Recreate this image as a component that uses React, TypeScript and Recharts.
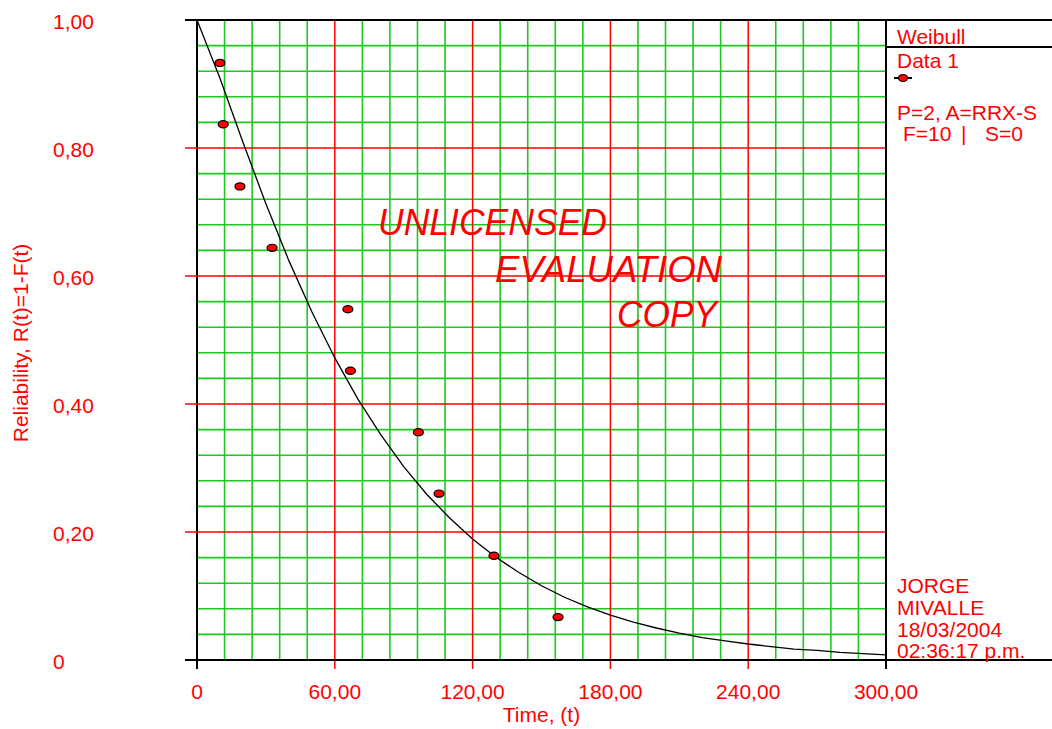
import {
  ComposedChart,
  XAxis,
  YAxis,
  Line,
  Scatter,
  ReferenceLine,
  Label,
} from "recharts";

// axis ticks
const xTicks = [0, 60, 120, 180, 240, 300];
const yTicks = [0, 0.2, 0.4, 0.6, 0.8, 1];
const xMinor = [12, 24, 36, 48, 72, 84, 96, 108, 132, 144, 156, 168, 192, 204, 216, 228, 252, 264, 276, 288];
const yMinor = [
  0.04, 0.08, 0.12, 0.16, 0.24, 0.28, 0.32, 0.36, 0.44, 0.48, 0.52, 0.56, 0.64,
  0.68, 0.72, 0.76, 0.84, 0.88, 0.92, 0.96,
];

// Data 1 (failure times and median-rank reliability)
const failTimes = [10.0, 11.4, 18.7, 32.7, 65.7, 66.8, 96.4, 105.4, 129.3, 157.2];
const reliability = [0.933, 0.837, 0.74, 0.644, 0.548, 0.452, 0.356, 0.26, 0.163, 0.067];

// fitted Weibull curve
const curveT = [
  0, 10, 20, 30, 40, 50, 60, 70, 80, 90, 100, 110, 120, 130, 140, 150, 160,
  170, 180, 190, 200, 210, 220, 230, 240, 250, 260, 270, 280, 290, 300,
];
const curveR = [
  1, 0.909, 0.809, 0.713, 0.624, 0.544, 0.472, 0.408, 0.352, 0.302, 0.259,
  0.222, 0.189, 0.161, 0.137, 0.116, 0.098, 0.083, 0.07, 0.059, 0.05, 0.042,
  0.035, 0.03, 0.025, 0.021, 0.017, 0.015, 0.012, 0.01, 0.008,
];

const points = failTimes.map((t, i) => ({ t, r: reliability[i] }));
const curve = curveT.map((t, i) => ({ t, fit: curveR[i] }));

const RED = "#ff0000";
const GREEN = "#1ec81e";
const FONT = "'Liberation Sans', Arial, sans-serif";
const FS = 21;

const fmt = (v: number) => (v === 0 ? "0" : v.toFixed(2).replace(".", ","));

function XTick(props: any) {
  const { x, y, payload } = props;
  const v = payload.value;
  const edge = v === 0 || v === 300;
  return (
    <g>
      <line x1={x} x2={x} y1={y - 9} y2={y} stroke={edge ? "#000" : RED} strokeWidth={edge ? 2 : 1.5} />
      <text x={x} y={y + 30} textAnchor="middle" fill={RED} fontSize={FS} fontFamily={FONT}>
        {fmt(v)}
      </text>
    </g>
  );
}

function YTick(props: any) {
  const { x, y, payload } = props;
  const v = payload.value;
  const edge = v === 0 || v === 1;
  return (
    <g>
      {!edge && <line x1={x} x2={x + 12} y1={y} y2={y} stroke={RED} strokeWidth={1.5} />}
      <text x={x - 132} y={y + 9} textAnchor="start" fill={RED} fontSize={FS} fontFamily={FONT}>
        {fmt(v)}
      </text>
    </g>
  );
}

function Dot(props: any) {
  const { cx, cy } = props;
  return <ellipse cx={cx} cy={cy} rx={5} ry={3.6} fill={RED} stroke="#000" strokeWidth={1.2} />;
}

function YTitle(props: any) {
  const vb = props.viewBox;
  const cy = vb.y + vb.height / 2 + 3;
  return (
    <text
      x={28}
      y={cy}
      transform={`rotate(-90, 28, ${cy})`}
      textAnchor="middle"
      fill={RED}
      fontSize={FS}
      fontFamily={FONT}
    >
      Reliability, R(t)=1-F(t)
    </text>
  );
}

export default function App() {
  const txt = { fill: RED, fontSize: FS, fontFamily: FONT };
  const wm = { fill: RED, fontSize: 37, fontFamily: FONT, fontStyle: "italic", lengthAdjust: "spacingAndGlyphs" };
  return (
    <div style={{ position: "relative", width: 1052, height: 729, background: "#fff" }}>
      <style>{"body{margin:0}"}</style>
      <ComposedChart width={1052} height={729} margin={{ top: 20, right: 166, bottom: 0, left: 0 }}>
        <XAxis
          type="number"
          dataKey="t"
          domain={[0, 300]}
          ticks={xTicks}
          height={69}
          tickSize={9}
          tickMargin={0}
          tickLine={false}
          tick={<XTick />}
          axisLine={{ stroke: "#000", strokeWidth: 2 }}
          allowDataOverflow
        >
          <Label value="Time, (t)" position="insideBottom" offset={7} fill={RED} fontSize={FS} fontFamily={FONT} />
        </XAxis>
        <YAxis
          type="number"
          domain={[0, 1]}
          ticks={yTicks}
          width={197}
          tickSize={12}
          tickMargin={0}
          tickLine={false}
          tick={<YTick />}
          axisLine={{ stroke: "#000", strokeWidth: 2 }}
          allowDataOverflow
        >
          <Label content={<YTitle />} />
        </YAxis>
        {xMinor.map((v) => (
          <ReferenceLine key={`xm${v}`} x={v} stroke={GREEN} strokeWidth={1.6} />
        ))}
        {yMinor.map((v) => (
          <ReferenceLine key={`ym${v}`} y={v} stroke={GREEN} strokeWidth={1.6} />
        ))}
        {xTicks.slice(1, -1).map((v) => (
          <ReferenceLine key={`xM${v}`} x={v} stroke={RED} strokeWidth={1.5} />
        ))}
        {yTicks.slice(1, -1).map((v) => (
          <ReferenceLine key={`yM${v}`} y={v} stroke={RED} strokeWidth={1.5} />
        ))}
        <Line
          data={curve}
          dataKey="fit"
          type="linear"
          stroke="#000"
          strokeWidth={1.3}
          dot={false}
          isAnimationActive={false}
        />
        <Scatter data={points} dataKey="r" shape={<Dot />} isAnimationActive={false} />
      </ComposedChart>
      <svg
        width={1052}
        height={729}
        style={{ position: "absolute", left: 0, top: 0, pointerEvents: "none" }}
      >
        {/* frame */}
        <line x1={185} x2={1052} y1={20} y2={20} stroke="#000" strokeWidth={2} />
        <line x1={185} x2={1052} y1={660} y2={660} stroke="#000" strokeWidth={2} />
        <line x1={886} x2={886} y1={20} y2={669} stroke="#000" strokeWidth={2} />
        <line x1={886} x2={1052} y1={47} y2={47} stroke="#000" strokeWidth={2} />
        {/* watermark */}
        <text x={378} y={235} textLength={229} {...wm}>UNLICENSED</text>
        <text x={495} y={282} textLength={227} {...wm}>EVALUATION</text>
        <text x={617} y={327} textLength={100} {...wm}>COPY</text>
        {/* legend panel */}
        <text x={897} y={44} {...txt}>Weibull</text>
        <text x={897} y={68} {...txt}>Data 1</text>
        <line x1={894} x2={912} y1={78} y2={78} stroke="#000" strokeWidth={2} />
        <ellipse cx={903} cy={78} rx={4.5} ry={3.5} fill={RED} stroke="#000" strokeWidth={1.2} />
        <text x={897} y={120} {...txt}>P=2, A=RRX-S</text>
        <text y={141} {...txt}>
          <tspan x={903}>F=10</tspan>
          <tspan x={961}>|</tspan>
          <tspan x={985}>S=0</tspan>
        </text>
        <text x={897} y={593} {...txt}>JORGE</text>
        <text x={897} y={615} {...txt}>MIVALLE</text>
        <text x={897} y={637} {...txt}>18/03/2004</text>
        <text x={897} y={658} {...txt}>02:36:17 p.m.</text>
      </svg>
    </div>
  );
}
